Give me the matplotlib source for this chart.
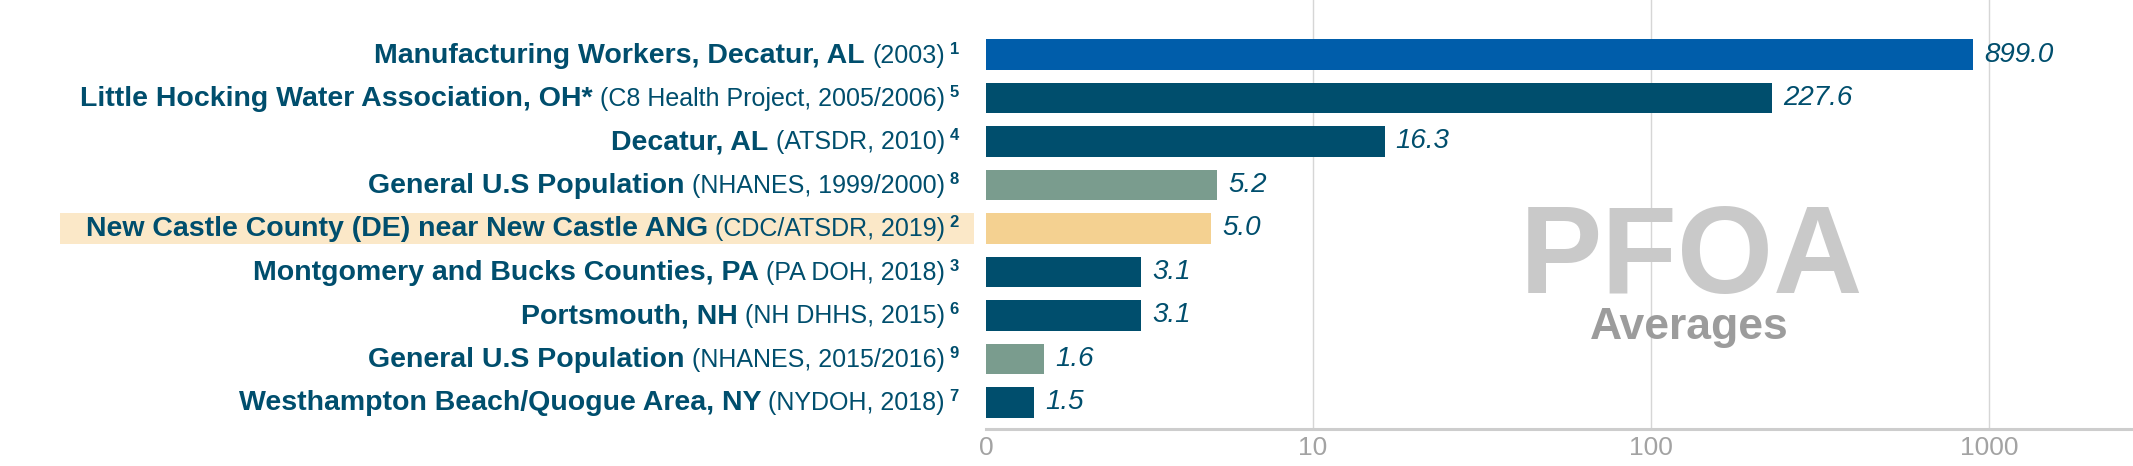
import matplotlib
matplotlib.use("Agg")
import matplotlib.pyplot as plt
from matplotlib.transforms import IdentityTransform, blended_transform_factory
from matplotlib.patches import Rectangle
from matplotlib import font_manager

# ---- data ----
names = [
    "Manufacturing Workers, Decatur, AL",
    "Little Hocking Water Association, OH*",
    "Decatur, AL",
    "General U.S Population",
    "New Castle County (DE) near New Castle ANG",
    "Montgomery and Bucks Counties, PA",
    "Portsmouth, NH",
    "General U.S Population",
    "Westhampton Beach/Quogue Area, NY",
]
sources = [
    "(2003)",
    "(C8 Health Project, 2005/2006)",
    "(ATSDR, 2010)",
    "(NHANES, 1999/2000)",
    "(CDC/ATSDR, 2019)",
    "(PA DOH, 2018)",
    "(NH DHHS, 2015)",
    "(NHANES, 2015/2016)",
    "(NYDOH, 2018)",
]
refs = ["1", "5", "4", "8", "2", "3", "6", "9", "7"]
values = [899.0, 227.6, 16.3, 5.2, 5.0, 3.1, 3.1, 1.6, 1.5]
groups = ["workers", "community", "community", "national", "local",
          "community", "community", "national", "community"]
tick_values = [1.08, 10, 100, 1000]
tick_labels = ["0", "10", "100", "1000"]

colors = {"workers": "#005DAA", "community": "#004E6D",
          "national": "#7A9C8E", "local": "#F4D191"}
TEXT = "#004E6D"
HIGHLIGHT = "#FBE8C8"

names_avail = {f.name for f in font_manager.fontManager.ttflist}
SANS = "Liberation Sans" if "Liberation Sans" in names_avail else "DejaVu Sans"
NARROW = "Liberation Sans Narrow" if "Liberation Sans Narrow" in names_avail else SANS
plt.rcParams["font.family"] = SANS

W, H, DPI = 2133, 466, 100
fig = plt.figure(figsize=(W / DPI, H / DPI), dpi=DPI)
ax_left, ax_bottom = 986 / W, (H - 429) / H
ax = fig.add_axes([ax_left, ax_bottom, 1 - ax_left, 1 - ax_bottom])

xmin, xmax = 1.08, 2667
ypos = list(range(len(values)))
ax.set_xscale("log")
ax.set_xlim(xmin, xmax)
ax.set_ylim(8.61, -1.253)

ax.barh(ypos, [v - xmin for v in values], left=xmin, height=0.71,
        color=[colors[g] for g in groups], zorder=3)

ax.set_xticks(tick_values)
ax.set_xticklabels(tick_labels)
ax.minorticks_off()
ax.tick_params(axis="x", length=0, pad=5, labelsize=19, labelcolor="#A3A3A3")
for lbl in ax.get_xticklabels():
    lbl.set_family(NARROW)
ax.set_yticks([])
for s in ["top", "left", "right"]:
    ax.spines[s].set_visible(False)
ax.spines["bottom"].set_color("#CDCDCD")
ax.spines["bottom"].set_linewidth(2.2)
for t in tick_values[1:]:
    ax.axvline(t, color="#D6D6D6", lw=1.0, zorder=1)

# value labels
for y, v in zip(ypos, values):
    ax.annotate(f"{v:.1f}", xy=(v, y), xytext=(8, 0), textcoords="offset points",
                va="center", ha="left", fontsize=20, style="italic", color=TEXT)

# watermark
ax.text(0.615, 0.318, "PFOA", transform=ax.transAxes, ha="center", va="baseline",
        fontsize=89, fontweight="bold", color="#C9C9C9", zorder=2)
ax.text(0.613, 0.209, "Averages", transform=ax.transAxes, ha="center", va="baseline",
        fontsize=32, fontweight="bold", color="#9C9C9C", zorder=2)

# highlight band behind the local row
hl = groups.index("local")
band_tr = blended_transform_factory(IdentityTransform(), ax.transData)
fig.add_artist(Rectangle((60, hl - 0.355), 974 - 60, 0.71, transform=band_tr,
                         facecolor=HIGHLIGHT, edgecolor="none", zorder=0))

# composed labels
fig.canvas.draw()
renderer = fig.canvas.get_renderer()
x_right = 959
for y, n, s, r in zip(ypos, names, sources, refs):
    ydisp = ax.transData.transform((xmin, y))[1]
    base = ydisp - 8
    t = fig.text(x_right, base + 9, r, transform=IdentityTransform(), ha="right",
                 va="baseline", fontsize=12, fontweight="bold", color=TEXT)
    x = x_right - t.get_window_extent(renderer).width - 5
    t = fig.text(x, base, s, transform=IdentityTransform(), ha="right",
                 va="baseline", fontsize=18, color=TEXT, family=NARROW)
    x -= t.get_window_extent(renderer).width + 7
    fig.text(x, base, n, transform=IdentityTransform(), ha="right",
             va="baseline", fontsize=20.5, fontweight="bold", color=TEXT)

fig.savefig("out.png", dpi=DPI, facecolor="white")
